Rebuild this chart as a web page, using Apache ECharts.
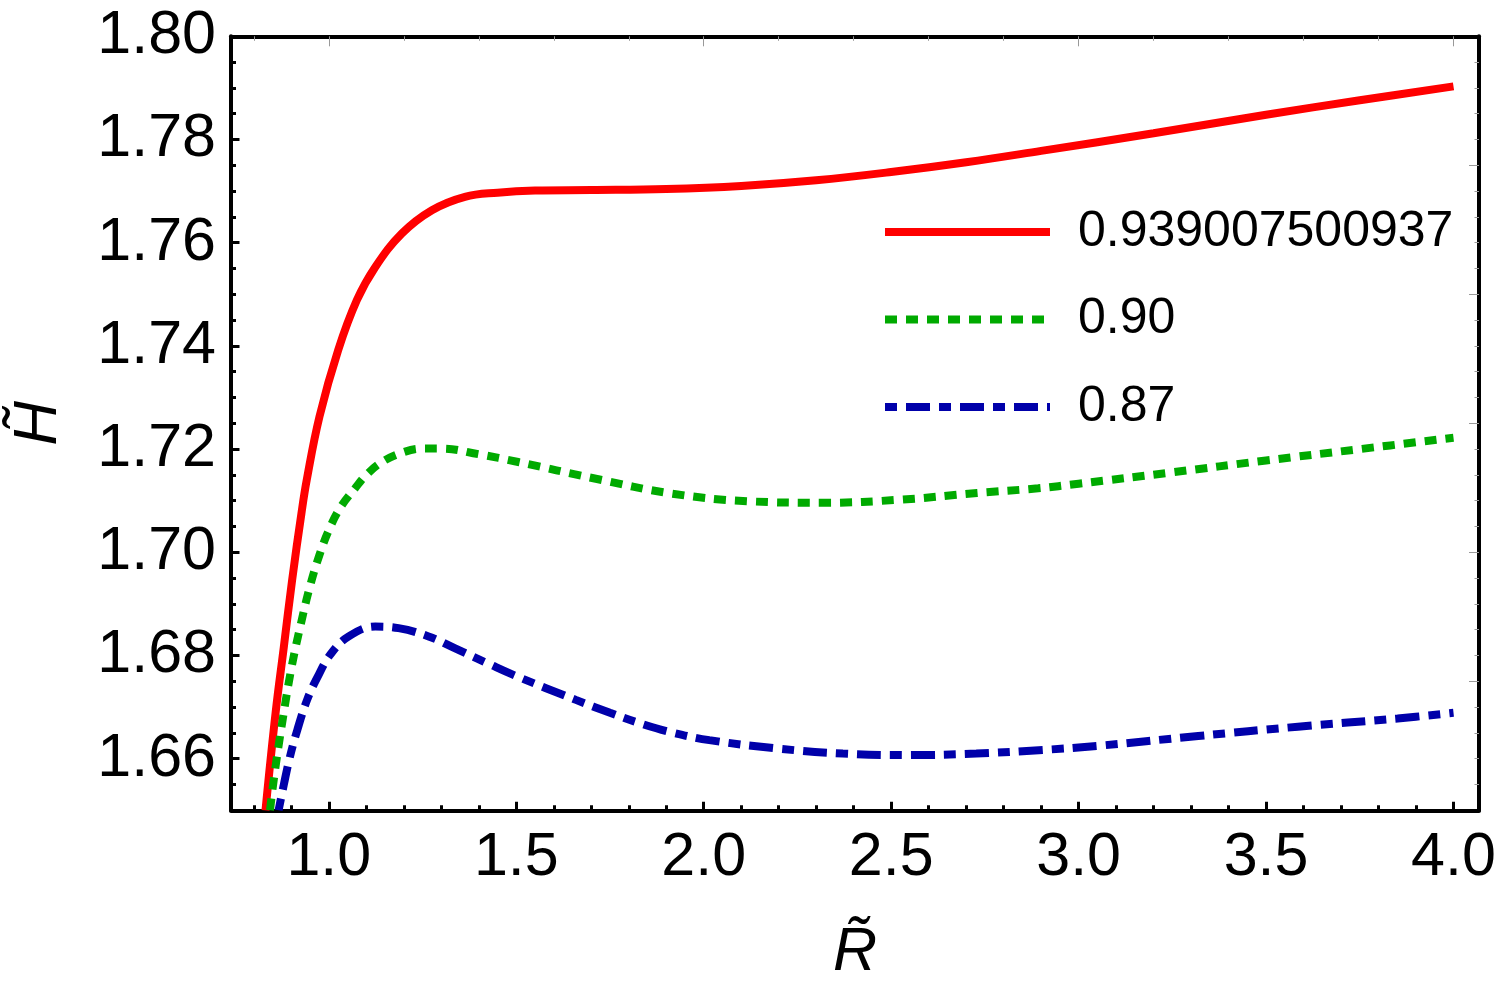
<!DOCTYPE html>
<html>
<head>
    <meta charset="utf-8">
    <style type="text/css">
        html, body { margin: 0; padding: 0; background: #fff; }
        #main { width: 1500px; height: 992px; }
    </style>
    <script src="https://cdn.jsdelivr.net/npm/echarts@6.0.0/dist/echarts.min.js"></script>
</head>
<body>
    <div id="main"></div>
    <script type="text/javascript">
        // 曲线数据 (R, H)
        var redR   = [0.831, 0.858, 0.880, 0.902, 0.927, 0.941, 0.975, 1.025, 1.075, 1.124, 1.195, 1.275, 1.363, 1.45, 1.55, 1.70, 1.90, 2.10, 2.30, 2.50, 2.70, 2.90, 3.20, 3.50, 3.75, 4.00];
        var redH   = [1.6500, 1.6689, 1.6817, 1.6946, 1.7076, 1.7140, 1.7263, 1.7392, 1.7489, 1.7553, 1.7618, 1.7663, 1.7689, 1.7697, 1.7701, 1.7702, 1.7704, 1.7710, 1.7721, 1.7737, 1.7756, 1.7778, 1.7812, 1.7848, 1.7876, 1.7903];

        var greenR = [0.843, 0.855, 0.876, 0.900, 0.925, 0.950, 0.975, 1.000, 1.031, 1.071, 1.100, 1.142, 1.195, 1.25, 1.30, 1.40, 1.505, 1.709, 1.913, 2.117, 2.321, 2.525, 2.729, 2.892, 3.00, 3.25, 3.50, 3.75, 4.00];
        var greenH = [1.6500, 1.6570, 1.6672, 1.6775, 1.6860, 1.6935, 1.6995, 1.7043, 1.7087, 1.7125, 1.7150, 1.7175, 1.7193, 1.7201, 1.7201, 1.7190, 1.7175, 1.7143, 1.7114, 1.7099, 1.7096, 1.7102, 1.7115, 1.7124, 1.7133, 1.7155, 1.7178, 1.7200, 1.7222];

        var blueR  = [0.866, 0.880, 0.895, 0.916, 0.942, 0.969, 1.004, 1.053, 1.124, 1.186, 1.266, 1.337, 1.426, 1.50, 1.659, 1.75, 1.837, 1.92, 2.015, 2.193, 2.371, 2.549, 2.727, 2.905, 3.053, 3.319, 3.585, 3.851, 4.00];
        var blueH  = [1.6500, 1.6550, 1.6600, 1.6656, 1.6714, 1.6757, 1.6802, 1.6837, 1.6856, 1.6853, 1.6837, 1.6814, 1.6784, 1.6760, 1.6714, 1.6689, 1.6667, 1.6650, 1.6636, 1.6620, 1.6610, 1.6607, 1.6610, 1.6617, 1.6625, 1.6644, 1.6662, 1.6678, 1.6689];

        var seriesNames = ['0.939007500937', '0.90', '0.87'];

        // 刻度
        var xMajor = [1.0, 1.5, 2.0, 2.5, 3.0, 3.5, 4.0];
        var xMinor = [0.8, 0.9, 1.1, 1.2, 1.3, 1.4, 1.6, 1.7, 1.8, 1.9, 2.1, 2.2, 2.3, 2.4, 2.6, 2.7, 2.8, 2.9, 3.1, 3.2, 3.3, 3.4, 3.6, 3.7, 3.8, 3.9, 4.0];
        var xTopMajor = [1, 2, 3, 4];
        var xTopMinor = [0.8, 1.2, 1.4, 1.6, 1.8, 2.2, 2.4, 2.6, 2.8, 3.2, 3.4, 3.6, 3.8];
        var yMajor = [1.66, 1.68, 1.70, 1.72, 1.74, 1.76, 1.78, 1.80];
        var yMinor = [1.655, 1.665, 1.67, 1.675, 1.685, 1.69, 1.695, 1.705, 1.71, 1.715, 1.725, 1.73, 1.735, 1.745, 1.75, 1.755, 1.765, 1.77, 1.775, 1.785, 1.79, 1.795];
        var yRightMajor = [1.675, 1.70, 1.725, 1.75, 1.775];
        var yRightMinor = [1.655, 1.66, 1.665, 1.67, 1.68, 1.685, 1.69, 1.695, 1.705, 1.71, 1.715, 1.72, 1.73, 1.735, 1.74, 1.745, 1.755, 1.76, 1.765, 1.77, 1.78, 1.785, 1.79, 1.795];

        var X_MIN = 0.739, X_MAX = 4.068, Y_MIN = 1.65, Y_MAX = 1.80;
        var FONT = "'Liberation Sans', Arial, sans-serif";

        function zip(a, b) {
            var out = [];
            for (var i = 0; i < a.length; i++) out.push([a[i], b[i]]);
            return out;
        }

        function plainAxis(extra) { // 只画刻度的辅助轴
            var ax = {
                type: 'value',
                axisLine: { show: false },
                axisLabel: { show: false },
                splitLine: { show: false }
            };
            for (var k in extra) ax[k] = extra[k];
            return ax;
        }

        var myChart = echarts.init(document.getElementById('main'), null, { renderer: 'canvas' });

        var option = {
            animation: false,
            backgroundColor: '#fff',
            grid: { left: 228.7, right: 21, top: 36.3, bottom: 181.7, containLabel: false },
            legend: {
                orient: 'vertical',
                left: 876, top: 202,
                itemWidth: 165, itemHeight: 40, itemGap: 37.5,
                data: seriesNames,
                textStyle: { fontSize: 50, color: '#000', fontFamily: FONT, padding: [0, 0, 0, 23] },
                itemStyle: { opacity: 0 },
                lineStyle: { width: 8, type: 'inherit', cap: 'butt', opacity: 1 }
            },
            xAxis: [
                {
                    type: 'value', position: 'bottom', min: X_MIN, max: X_MAX,
                    name: 'R\u0303', nameLocation: 'middle', nameGap: 112,
                    nameTextStyle: { fontSize: 61, fontStyle: 'italic', color: '#000', fontFamily: FONT },
                    axisLine: { show: true, onZero: false, lineStyle: { color: '#000', width: 4 } },
                    axisTick: { show: true, inside: true, length: 8.5, customValues: xMajor, lineStyle: { color: '#000', width: 3 } },
                    axisLabel: { show: true, customValues: xMajor, margin: 17, fontSize: 61, color: '#000', fontFamily: FONT,
                        formatter: function (v) { return v.toFixed(1); } },
                    splitLine: { show: false }
                },
                plainAxis({ position: 'bottom', min: X_MIN, max: X_MAX,
                    axisTick: { show: true, inside: true, length: 5, customValues: xMinor, lineStyle: { color: '#000', width: 3 } } }),
                {
                    type: 'value', position: 'top', min: X_MIN, max: X_MAX,
                    axisLine: { show: true, onZero: false, lineStyle: { color: '#000', width: 4 } },
                    axisTick: { show: true, inside: true, length: 10, customValues: xTopMajor, lineStyle: { color: '#999', width: 1 } },
                    axisLabel: { show: false },
                    splitLine: { show: false }
                },
                plainAxis({ position: 'top', min: X_MIN, max: X_MAX,
                    axisTick: { show: true, inside: true, length: 4.5, customValues: xTopMinor, lineStyle: { color: '#999', width: 1 } } })
            ],
            yAxis: [
                {
                    type: 'value', position: 'left', min: Y_MIN, max: Y_MAX,
                    name: 'H\u0303', nameLocation: 'middle', nameGap: 161,
                    nameTextStyle: { fontSize: 62, fontStyle: 'italic', color: '#000', fontFamily: FONT },
                    axisLine: { show: true, onZero: false, lineStyle: { color: '#000', width: 4 } },
                    axisTick: { show: true, inside: true, length: 8.5, customValues: yMajor, lineStyle: { color: '#000', width: 3 } },
                    axisLabel: { show: true, customValues: yMajor, margin: 15, fontSize: 61, color: '#000', fontFamily: FONT,
                        formatter: function (v) { return v.toFixed(2); } },
                    splitLine: { show: false }
                },
                plainAxis({ position: 'left', min: Y_MIN, max: Y_MAX,
                    axisTick: { show: true, inside: true, length: 5, customValues: yMinor, lineStyle: { color: '#000', width: 3 } } }),
                {
                    type: 'value', position: 'right', min: Y_MIN, max: Y_MAX,
                    axisLine: { show: true, onZero: false, lineStyle: { color: '#000', width: 4 } },
                    axisTick: { show: true, inside: true, length: 10, customValues: yRightMajor, lineStyle: { color: '#999', width: 1 } },
                    axisLabel: { show: false },
                    splitLine: { show: false }
                },
                plainAxis({ position: 'right', min: Y_MIN, max: Y_MAX,
                    axisTick: { show: true, inside: true, length: 4.5, customValues: yRightMinor, lineStyle: { color: '#999', width: 1 } } })
            ],
            series: [
                {
                    name: seriesNames[0], type: 'line', xAxisIndex: 0, yAxisIndex: 0,
                    data: zip(redR, redH), symbol: 'none', smooth: 0.4, clip: true,
                    lineStyle: { color: '#ff0000', width: 8, type: 'solid', cap: 'butt' },
                    itemStyle: { color: '#ff0000' }
                },
                {
                    name: seriesNames[1], type: 'line', xAxisIndex: 0, yAxisIndex: 0,
                    data: zip(greenR, greenH), symbol: 'none', smooth: 0.4, clip: true,
                    lineStyle: { color: '#00aa00', width: 8, type: [12, 9], cap: 'butt' },
                    itemStyle: { color: '#00aa00' }
                },
                {
                    name: seriesNames[2], type: 'line', xAxisIndex: 0, yAxisIndex: 0,
                    data: zip(blueR, blueH), symbol: 'none', smooth: 0.4, clip: true,
                    lineStyle: { color: '#0000aa', width: 8, type: [12, 9, 24, 9], cap: 'butt' },
                    itemStyle: { color: '#0000aa' }
                }
            ]
        };

        myChart.setOption(option);
        window.onresize = myChart.resize;
    </script>
</body>
</html>
